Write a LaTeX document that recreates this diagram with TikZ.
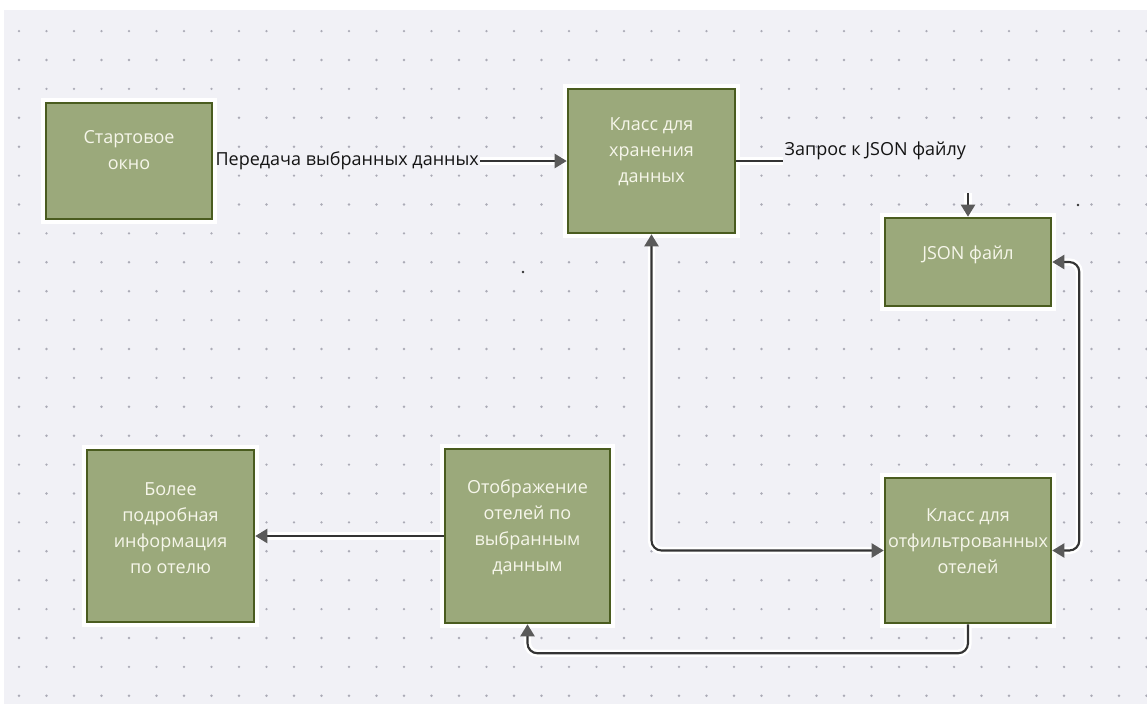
\documentclass[tikz,border=0pt]{standalone}
\usepackage{fontspec}
\setmainfont{Open Sans}
\usetikzlibrary{arrows.meta}
\definecolor{bg}{HTML}{F1F1F6}
\definecolor{dotc}{HTML}{ABABB6}
\definecolor{boxfill}{HTML}{9BA97B}
\definecolor{boxline}{HTML}{4A5C1F}
\definecolor{boxtxt}{HTML}{F6F6EA}
\definecolor{linec}{HTML}{333333}
\definecolor{tipc}{HTML}{5A5A5A}
\begin{document}
\begin{tikzpicture}[x=0.75pt,y=-0.75pt,
  box/.style={draw=boxline, line width=1.9pt, fill=boxfill, inner sep=0pt,
    preaction={draw=white, line width=7pt}},
  boxtext/.style={anchor=north, align=center, text=boxtxt, inner sep=0pt,
    font=\fontsize{13.5pt}{19.5pt}\selectfont},
  lbl/.style={font=\fontsize{13.5pt}{19.5pt}\selectfont, text=black!92, inner sep=1pt},
  conn/.style={draw=linec, line width=1.6pt, rounded corners=7.5pt},
  halo/.style={draw=white, line width=5.5pt, rounded corners=7.5pt},
  tip/.tip={Triangle[length=9pt, width=10.5pt, color=tipc, fill=tipc]}
]
\useasboundingbox (0,0) rectangle (1147,704);
\fill[white] (0,0) rectangle (1147,704);
\fill[bg] (4,10) rectangle (1147,704);
\foreach \i in {0,...,41}
  \foreach \j in {0,...,23}
    \fill[dotc] (19+27.5*\i, 31.1+28.9*\j) circle[radius=1pt];
\fill[black!80] (1078,205) circle[radius=1pt];
\fill[black!80] (523,272) circle[radius=1pt];

% boxes
\node[box, minimum width=124.5pt, minimum height=87pt] (b1) at (129,161) {};
\node[box, minimum width=125.25pt, minimum height=108pt] (b2) at (651.5,161) {};
\node[box, minimum width=124.5pt, minimum height=66pt] (json) at (968,262) {};
\node[box, minimum width=125.25pt, minimum height=129pt] (b4) at (170.5,536) {};
\node[box, minimum width=123.75pt, minimum height=130.5pt] (b5) at (527.5,536) {};
\node[box, minimum width=124.5pt, minimum height=108.75pt] (b6) at (968,550.5) {};

% labels
\node[lbl, anchor=west] (l1) at ([xshift=0.5pt]b1.east) {Передача выбранных данных};
\node[lbl, anchor=west] (l2) at (783,151) {Запрос к JSON файлу};
\coordinate (qc) at (968,193);

% connector halos
\path[halo] (l1.east) -- (b2.west);
\path[halo] (b2.east) -- (b2.east -| l2.west);
\path[halo] (b2.south) |- (b6.west);
\path[halo] (json.east) -- ++(27,0) |- (b6.east);
\path[halo] (b6.south) -- ++(0,29) -| (b5.south);
\path[halo] (b5.west) -- (b4.east);
\path[halo] (qc) -- (json.north);

% connectors
\draw[conn, -tip] (l1.east) -- (b2.west);
\draw[conn] (b2.east) -- (b2.east -| l2.west);
\draw[conn, -tip] (qc) -- (json.north);
\draw[conn, tip-tip] (b2.south) |- (b6.west);
\draw[conn, tip-tip] (json.east) -- ++(27,0) |- (b6.east);
\draw[conn, -tip] (b6.south) -- ++(0,29) -| (b5.south);
\draw[conn, -tip] (b5.west) -- (b4.east);

% box texts
\node[boxtext] (t1) at ([yshift=-21.5pt]b1.north) {Стартовое\\окно};
\node[boxtext] (t2) at ([yshift=-22.5pt]b2.north) {Класс для\\хранения\\данных};
\node[boxtext] (t3) at ([yshift=-21.5pt]json.north) {JSON файл};
\node[boxtext] (t4) at ([yshift=-25.5pt]b4.north) {Более\\подробная\\информация\\по отелю};
\node[boxtext] (t5) at ([yshift=-24pt]b5.north) {Отображение\\отелей по\\выбранным\\данным};
\node[boxtext] (t6) at ([yshift=-24pt]b6.north) {Класс для\\отфильтрованных\\отелей};
\end{tikzpicture}
\end{document}
